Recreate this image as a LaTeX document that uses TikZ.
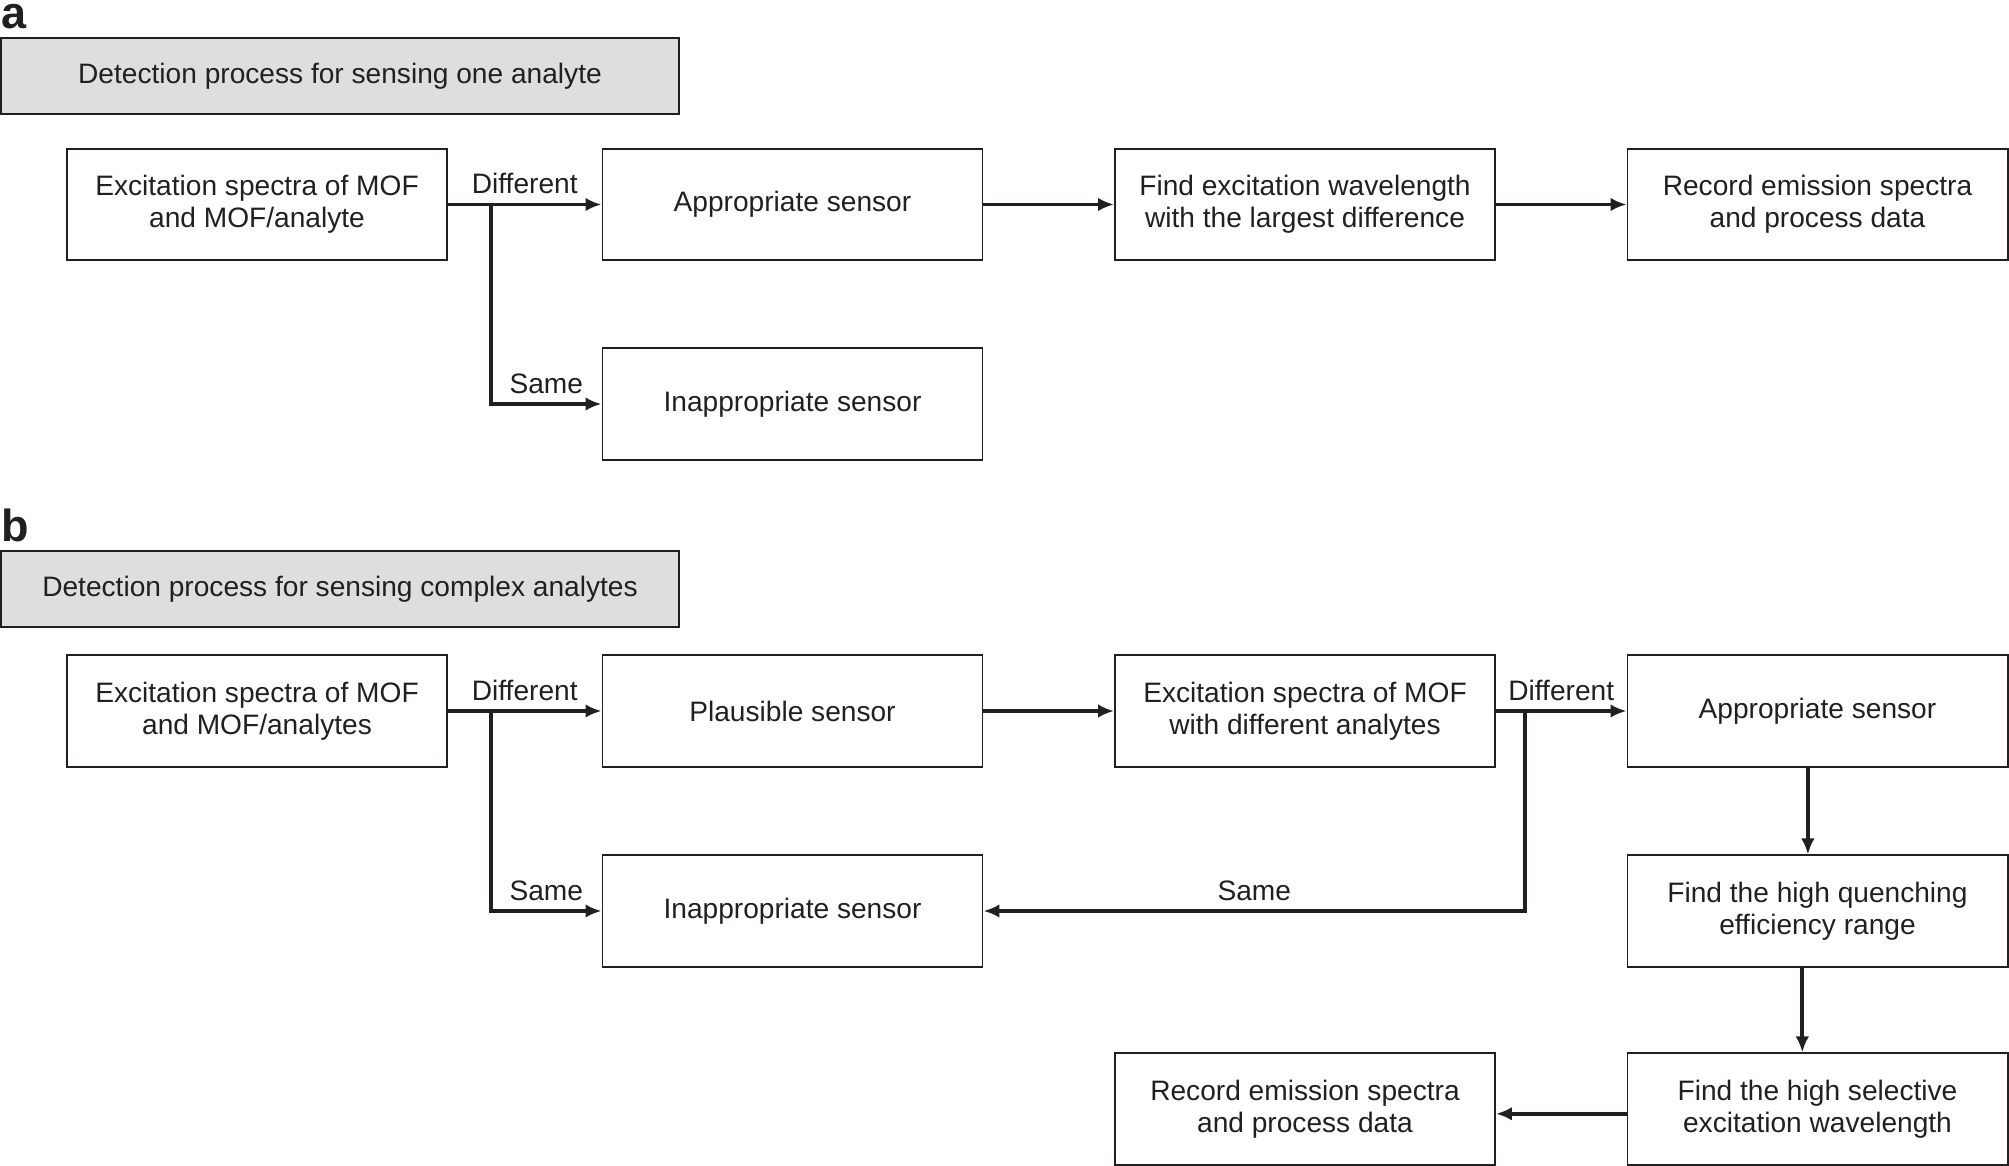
\documentclass[tikz,border=0pt]{standalone}
\usepackage{fontspec}
\setmainfont{Liberation Sans}
\usepackage{tikz}
\usetikzlibrary{arrows.meta}
\definecolor{hdrgray}{RGB}{221,222,224}
\definecolor{ink}{RGB}{35,31,32}

\begin{document}
\begin{tikzpicture}[x=0.125mm,y=-0.125mm,
	box/.style={draw=ink,line width=0.7pt,minimum width=47.5mm,minimum height=13.9mm,
		align=center,inner sep=0pt,text=ink,font=\fontsize{10}{11.4}\selectfont},
	hdr/.style={box,fill=hdrgray,minimum width=84.75mm,minimum height=9.5mm},
	lab/.style={text=ink,font=\fontsize{10}{11.4}\selectfont,inner sep=3pt},
	conn/.style={draw=ink,line width=1.3pt,-{Latex[length=2mm,width=1.7mm]}},
	panel/.style={anchor=north west,inner sep=0pt,text=ink,font=\fontsize{16}{16}\selectfont\bfseries}]
	\useasboundingbox (0,0) rectangle (2009,1166);
	%Panel a
	\node[panel] (la) at (1,4) {a};
	\node[hdr] (hA) at (340,76) {Detection process for sensing one analyte};
	\node[box] (A1) at (257,204.5) {Excitation spectra of MOF\\and MOF/analyte};
	\node[box] (A2) at (792.5,204.5) {Appropriate sensor};
	\node[box] (A3) at (1305,204.5) {Find excitation wavelength\\with the largest difference};
	\node[box] (A4) at (1817.5,204.5) {Record emission spectra\\and process data};
	\node[box] (A5) at (792.5,404) {Inappropriate sensor};
	\coordinate (sA) at (491,204.5);
	\draw[conn] (A1) -- node[lab,above]{Different} (A2);
	\draw[conn] (sA) |- node[lab,above,pos=0.75]{Same} (A5);
	\draw[conn] (A2) -- (A3);
	\draw[conn] (A3) -- (A4);
	%Panel b
	\node[panel] (lb) at (1,508) {b};
	\node[hdr] (hB) at (340,589) {Detection process for sensing complex analytes};
	\node[box] (B1) at (257,711) {Excitation spectra of MOF\\and MOF/analytes};
	\node[box] (B2) at (792.5,711) {Plausible sensor};
	\node[box] (B3) at (1305,711) {Excitation spectra of MOF\\with different analytes};
	\node[box] (B4) at (1817.5,711) {Appropriate sensor};
	\node[box] (B5) at (792.5,911) {Inappropriate sensor};
	\node[box] (B6) at (1817.5,911) {Find the high quenching\\efficiency range};
	\node[box] (B7) at (1817.5,1109) {Find the high selective\\excitation wavelength};
	\node[box] (B8) at (1305,1109) {Record emission spectra\\and process data};
	\coordinate (sB1) at (491,711);
	\coordinate (sB3) at (1525,711);
	\draw[conn] (B1) -- node[lab,above]{Different} (B2);
	\draw[conn] (sB1) |- node[lab,above,pos=0.75]{Same} (B5);
	\draw[conn] (B2) -- (B3);
	\draw[conn] (B3) -- node[lab,above]{Different} (B4);
	\draw[conn] (sB3) |- node[lab,above,pos=0.75]{Same} (B5);
	\draw[conn] ([xshift=-1.2mm]B4.south) -- ([xshift=-1.2mm]B6.north);
	\draw[conn] ([xshift=-1.9mm]B6.south) -- ([xshift=-1.9mm]B7.north);
	\draw[conn] ([yshift=-0.6mm]B7.west) -- ([yshift=-0.6mm]B8.east);
\end{tikzpicture}
\end{document}
